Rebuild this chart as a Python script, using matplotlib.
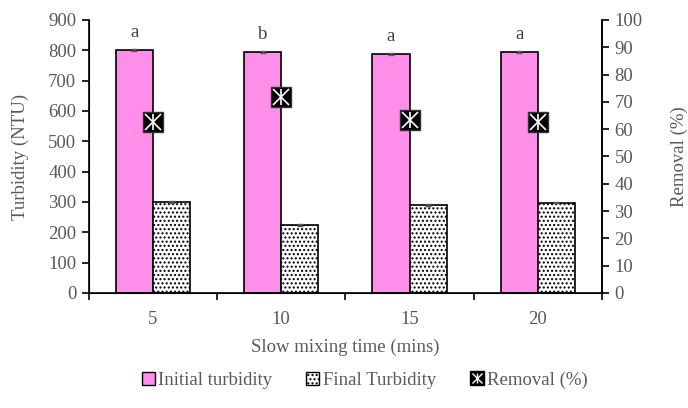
import numpy as np
import matplotlib.pyplot as plt
from matplotlib.lines import Line2D
from matplotlib.patches import Patch

plt.rcParams['font.family'] = ['Liberation Serif', 'DejaVu Serif']
plt.rcParams['hatch.linewidth'] = 1.0

times = ["5", "10", "15", "20"]
initial = [800, 795, 788, 795]
initial_err = [3, 3, 3, 3]
final = [300, 225, 290, 298]
final_err = [3, 3, 3, 3]
removal = [62.5, 71.7, 63.2, 62.5]
letters = ["a", "b", "a", "a"]

grey = "#595959"
pink = "#FF8FE8"

fig = plt.figure(figsize=(6.88, 4.08), dpi=100)
ax = fig.add_axes([0.129, 0.282, 0.746, 0.669])
x = np.arange(len(times))
w = 0.29

ax.bar(x - w / 2, initial, w, color=pink, edgecolor="black", linewidth=1.2,
       yerr=initial_err, ecolor=grey, capsize=2, error_kw=dict(elinewidth=0.8))
ax.bar(x + w / 2, final, w, color="white", edgecolor="black", linewidth=1.2,
       hatch="....", yerr=final_err, ecolor=grey, capsize=2,
       error_kw=dict(elinewidth=0.8))
for i, t in enumerate(letters):
    ax.text(x[i] - w / 2, initial[i] + 30, t, ha="center", va="bottom",
            fontsize=13.5, color="#404040")

ax.set_xlim(-0.5, len(times) - 0.5)
ax.set_ylim(0, 900)
ax.set_yticks(range(0, 901, 100))
ax.set_xticks(x)
ax.set_xticklabels(times)
ax.set_xticks(np.arange(-0.5, len(times), 1.0), minor=True)
ax.tick_params(axis="x", which="major", length=0, pad=13)
ax.tick_params(axis="x", which="minor", length=5, width=1.2, direction="out")
ax.tick_params(axis="y", length=5, width=1.2, direction="out", pad=4)
ax.tick_params(labelsize=13.5, labelcolor=grey)
ax.set_xlabel("Slow mixing time (mins)", fontsize=13.5, color=grey, labelpad=8)
ax.set_ylabel("Turbidity (NTU)", fontsize=13.5, color=grey, labelpad=14)
ax.spines["top"].set_visible(False)
for s in ["left", "right", "bottom"]:
    ax.spines[s].set_linewidth(1.2)

ax2 = ax.twinx()
ax2.set_ylim(0, 100)
ax2.set_yticks(range(0, 101, 10))
ax2.tick_params(axis="y", length=5, width=1.2, direction="out", pad=4,
                labelsize=13.5, labelcolor=grey)
ax2.set_ylabel("Removal (%)", fontsize=13.5, color=grey, labelpad=20)
ax2.spines["top"].set_visible(False)
ax2.spines["right"].set_linewidth(1.2)
ax2.plot(x, removal, linestyle="none", marker="s", markersize=15,
         markerfacecolor="black", markeredgecolor="#333333", zorder=3)
ax2.plot(x, removal, linestyle="none", marker="x", markersize=11,
         markeredgecolor="white", markeredgewidth=1.2, zorder=4)
ax2.plot(x, removal, linestyle="none", marker="|", markersize=11,
         markeredgecolor="white", markeredgewidth=1.2, zorder=4)

h1 = Patch(facecolor=pink, edgecolor="black")
h2 = Patch(facecolor="white", edgecolor="black", hatch="....")
h3a = Line2D([], [], linestyle="none", marker="s", markersize=10,
             markerfacecolor="black", markeredgecolor="black")
h3b = Line2D([], [], linestyle="none", marker="x", markersize=7,
             markeredgecolor="white", markeredgewidth=1)
h3c = Line2D([], [], linestyle="none", marker="|", markersize=7,
             markeredgecolor="white", markeredgewidth=1)
leg = fig.legend([h1, h2, (h3a, h3b, h3c)],
                 ["Initial turbidity", "Final Turbidity", "Removal (%)"],
                 loc="center", bbox_to_anchor=(0.53, 0.068), ncol=3,
                 frameon=False, fontsize=13.5, handlelength=0.7,
                 handleheight=0.7, handletextpad=0.2, columnspacing=1.8)
for t in leg.get_texts():
    t.set_color(grey)

fig.savefig("out.png", dpi=100)
